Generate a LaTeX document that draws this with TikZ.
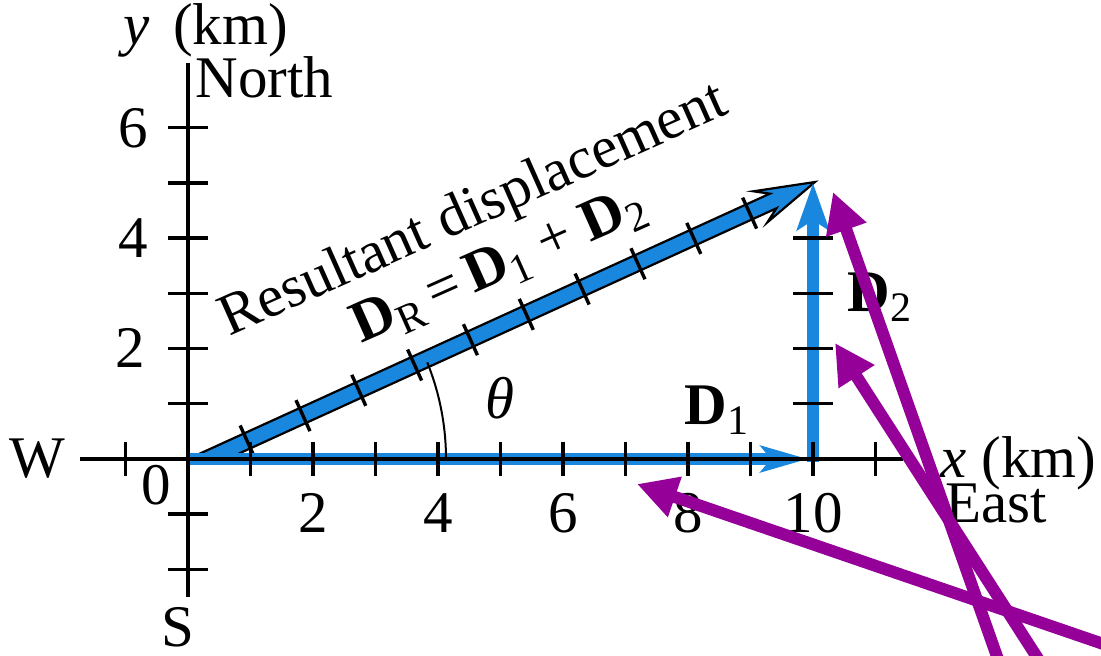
\documentclass[tikz,border=0pt]{standalone}
\usepackage{fontspec}
\setmainfont{Liberation Serif}
\usetikzlibrary{arrows.meta,calc}
\definecolor{vecblue}{RGB}{25,135,222}
\definecolor{markpurple}{RGB}{148,0,152}
\newcommand{\vsub}[1]{\raisebox{-5pt}{\fontsize{21}{21}\selectfont #1}}
\tikzset{
  lbl/.style={inner sep=0pt, font=\fontsize{29.5}{35}\selectfont},
  axisline/.style={line width=1.7pt, black},
  tickmark/.style={line width=1.7pt, black},
  bluevec/.style={vecblue, line width=6.2pt},
  purplearrow/.style={markpurple, line width=6pt, -{Triangle[length=20pt,width=20pt]}},
}
\begin{document}
\begin{tikzpicture}[x=0.5pt,y=-0.5pt]
\useasboundingbox (0,0) rectangle (1101,656);
\fill[white] (0,0) rectangle (1101,656);
\clip (0,0) rectangle (1101,656);

% key points
\coordinate (O) at (188,459);
\coordinate (D1end) at (808,459);
\coordinate (A) at (813,462);
\coordinate (B) at (813,183);

% resultant displacement (outlined blue band with head)
\coordinate (Rtl) at (188,459);
\coordinate (Rtr) at (227,459);
\coordinate (Rnu) at (769.8,193.7);
\coordinate (Rbu) at (753.4,191.3);
\coordinate (Rtip) at (815,182);
\coordinate (Rbl) at (767.4,222.3);
\coordinate (Rnl) at (776.4,208.3);
\filldraw[fill=vecblue, draw=black, line width=1.1pt, line join=miter]
  (Rtl) -- (Rnu) -- (Rbu) -- (Rtip) -- (Rbl) -- (Rnl) -- (Rtr) -- cycle;
\foreach \k in {1,...,10}
  \draw[tickmark] ({191.3+55.83*\k-7.0},{466.3-25.32*\k-15.5}) -- ({191.3+55.83*\k+7.0},{466.3-25.32*\k+15.5});

% D1 and D2
\draw[bluevec, -{Stealth[length=23.5pt,width=13pt,inset=5pt]}] (O) -- (D1end);
\draw[bluevec, -{Stealth[length=23.5pt,width=16pt,inset=5pt]}] (A) -- (B);
\foreach \k in {1,...,4}
  \draw[tickmark] (793,{459-55.2*\k}) -- (833,{459-55.2*\k});

% axes
\draw[axisline] (80,459) -- (903,459);
\draw[axisline] (188,63) -- (188,597);
\foreach \k in {-1,1,2,3,4,5,6,7,8,9,10,11}
  \draw[tickmark] ({188+62.5*\k},442) -- ({188+62.5*\k},476);
\foreach \k in {-2,-1,1,2,3,4,5,6}
  \draw[tickmark] (168,{459-55.2*\k}) -- (208,{459-55.2*\k});

% angle
\draw[line width=1pt] (446,459) arc[start angle=0,end angle=-22,radius=258];

% labels
\node[lbl, anchor=base west] (ylab) at (123,45) {\textit{y}\hspace{0.4em}(km)};
\node[lbl, anchor=base west] (north) at (195,98) {North};
\node[lbl, anchor=east] (y6) at (148,128) {6};
\node[lbl, anchor=east] (y4) at (148,238) {4};
\node[lbl, anchor=east] (y2) at (145,348) {2};
\node[lbl] (west) at (37,459) {W};
\node[lbl] (zero) at (156,485) {0};
\node[lbl] (south) at (178,627) {S};
\node[lbl] (x2) at (313,513) {2};
\node[lbl] (x4) at (438,513) {4};
\node[lbl] (x6) at (563,513) {6};
\node[lbl] (x8) at (688,513) {8};
\node[lbl] (x10) at (813,513) {10};
\node[lbl, anchor=base west] (xlab) at (940,478) {\textit{x} (km)};
\node[lbl, anchor=base west] (east) at (945,523) {East};
\node[lbl, anchor=base west] (d1) at (684,425) {\textbf{D}\vsub{1}};
\node[lbl, anchor=base west] (d2) at (847,312) {\textbf{D}\vsub{2}};
\node[lbl] (theta) at (500,398) {\textit{θ}};
\node[lbl, anchor=base, rotate=24] (res) at (480,225) {Resultant displacement};
\node[lbl, anchor=base, rotate=24] (eq) at (505,280) {\textbf{D}\vsub{R}\,=\,\textbf{D}\vsub{1} + \textbf{D}\vsub{2}};

% purple pointers
\coordinate (p1s) at (1000,665);
\coordinate (p1t) at (833,192);
\coordinate (p2s) at (1042,665);
\coordinate (p2t) at (835,343);
\coordinate (p3s) at (1115,648);
\coordinate (p3t) at (637,484);
\draw[purplearrow] (p1s) -- (p1t);
\draw[purplearrow] (p2s) -- (p2t);
\draw[purplearrow] (p3s) -- (p3t);
\end{tikzpicture}
\end{document}
